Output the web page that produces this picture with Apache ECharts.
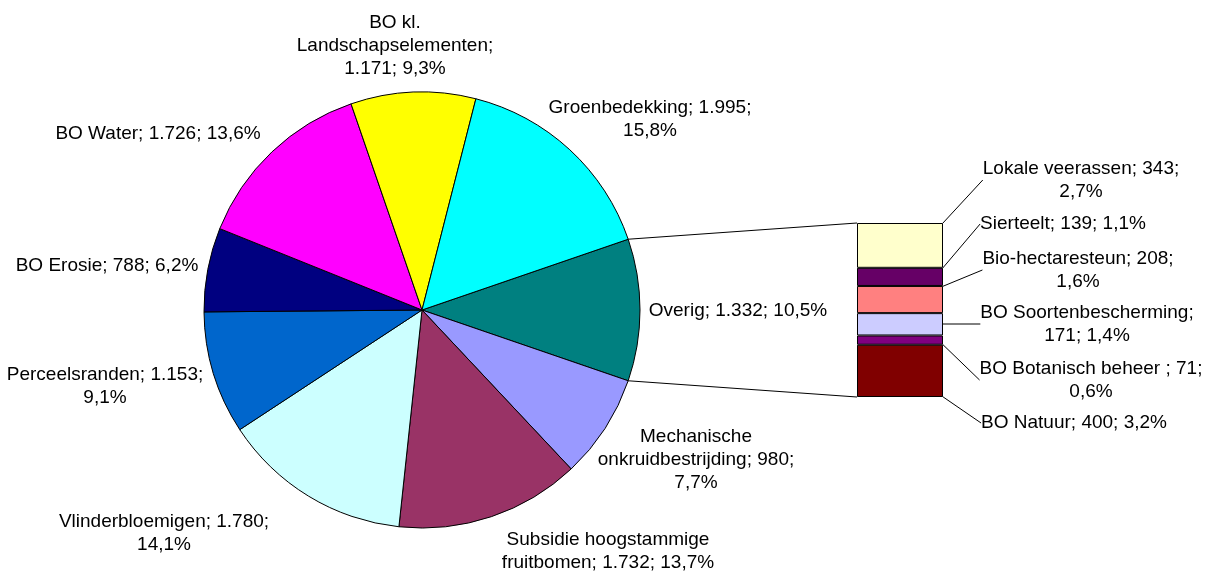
<!DOCTYPE html>
<html>
<head>
<meta charset="utf-8">
<script src="https://cdn.jsdelivr.net/npm/echarts@6/dist/echarts.min.js"></script>
<style>
  html, body { margin: 0; padding: 0; background: #fff; }
  #chart { width: 1209px; height: 573px; }
</style>
</head>
<body>
<div id="chart"></div>
<script>
// pie slices, clockwise starting with Overig
const pieNames = ['Overig', 'Mechanische\nonkruidbestrijding', 'Subsidie hoogstammige\nfruitbomen', 'Vlinderbloemigen',
  'Perceelsranden', 'BO Erosie', 'BO Water', 'BO kl.\nLandschapselementen', 'Groenbedekking']
const pieValues = [1332, 980, 1732, 1780, 1153, 788, 1726, 1171, 1995]
const pieColors = ['#008080', '#9999FF', '#993366', '#CCFFFF', '#0066CC', '#000080', '#FF00FF', '#FFFF00', '#00FFFF']
// 0 = one line, 1 = break before percent, 2 = break before value
const pieWrap = [0, 1, 0, 1, 1, 0, 0, 2, 1]

// breakdown of Overig, top to bottom
const barNames = ['Lokale veerassen', 'Sierteelt', 'Bio-hectaresteun', 'BO Soortenbescherming', 'BO Botanisch beheer ', 'BO Natuur']
const barValues = [343, 139, 208, 171, 71, 400]
const barColors = ['#FFFFCC', '#660066', '#FF8080', '#CCCCFF', '#800080', '#800000']
const barWrap = [1, 0, 1, 2, 1, 0]

const total = pieValues.reduce((a, b) => a + b, 0)
const overig = barValues.reduce((a, b) => a + b, 0)

function nl(v) {
  return String(v).replace(/\B(?=(\d{3})+(?!\d))/g, '.')
}
function pct(v) {
  return (v / total * 100).toFixed(1).replace('.', ',') + '%'
}
function labelText(name, v, wrap) {
  const sepV = wrap === 2 ? ';\n' : '; '
  const sepP = wrap === 1 ? ';\n' : '; '
  return name + sepV + nl(v) + sepP + pct(v)
}

// label anchor points (centre of text block)
const pieLabelPos = [[738, 311], [696, 460], [608, 551], [164, 533], [105, 386], [107, 266], [158, 134], [395, 46], [650, 119]]
const barLabelPos = [[1081, 180], [1063, 224], [1078, 270], [1087, 324], [1091, 380], [1074, 423]]

const pieCenter = [422, 310]
const pieRadius = 218
const startAngle = pieValues[0] / total * 360 / 2
const barGrid = { left: 857, top: 223, width: 86, height: 174 }

const textStyle = {
  color: '#000',
  fontFamily: 'Liberation Sans, Arial, sans-serif',
  fontSize: 19,
  lineHeight: 23,
  overflow: 'none'
}

const chart = echarts.init(document.getElementById('chart'))

const barSeries = []
for (let i = barNames.length - 1; i >= 0; i--) {
  const idx = i
  barSeries.push({
    name: barNames[idx],
    type: 'bar',
    stack: 'overig',
    barWidth: '100%',
    xAxisIndex: 0,
    yAxisIndex: 0,
    itemStyle: { color: barColors[idx], borderColor: '#000', borderWidth: 1 },
    label: {
      show: true,
      position: 'right',
      align: 'center',
      ...textStyle,
      formatter: () => labelText(barNames[idx], barValues[idx], barWrap[idx])
    },
    labelLine: { show: true, lineStyle: { color: '#000', width: 1 } },
    labelLayout: () => ({
      x: barLabelPos[idx][0],
      y: barLabelPos[idx][1],
      align: 'center',
      verticalAlign: 'middle'
    }),
    data: [barValues[idx]]
  })
}

const option = {
  animation: false,
  backgroundColor: '#fff',
  grid: { ...barGrid, containLabel: false },
  xAxis: { type: 'category', data: ['Overig'], show: false },
  yAxis: { type: 'value', min: 0, max: overig, show: false },
  series: [
    {
      name: 'Verdeling',
      type: 'pie',
      center: pieCenter,
      radius: pieRadius,
      startAngle: startAngle,
      clockwise: true,
      itemStyle: { borderColor: '#000', borderWidth: 1 },
      label: {
        show: true,
        position: 'outside',
        align: 'center',
        ...textStyle,
        formatter: p => labelText(pieNames[p.dataIndex], pieValues[p.dataIndex], pieWrap[p.dataIndex])
      },
      labelLine: { show: false },
      labelLayout: p => ({
        x: pieLabelPos[p.dataIndex][0],
        y: pieLabelPos[p.dataIndex][1],
        align: 'center',
        verticalAlign: 'middle'
      }),
      emphasis: { disabled: true },
      data: pieValues.map((v, i) => ({ name: pieNames[i], value: v, itemStyle: { color: pieColors[i] } }))
    },
    ...barSeries
  ]
}
chart.setOption(option)

// connector lines from Overig slice to the breakdown bar
const a = startAngle * Math.PI / 180
const upper = [pieCenter[0] + pieRadius * Math.cos(a), pieCenter[1] - pieRadius * Math.sin(a)]
const lower = [pieCenter[0] + pieRadius * Math.cos(a), pieCenter[1] + pieRadius * Math.sin(a)]
const barTop = chart.convertToPixel({ gridIndex: 0 }, [0, overig])
const barBottom = chart.convertToPixel({ gridIndex: 0 }, [0, 0])
chart.setOption({
  graphic: [
    { type: 'line', shape: { x1: upper[0], y1: upper[1], x2: barGrid.left, y2: barTop[1] }, style: { stroke: '#000', lineWidth: 1 } },
    { type: 'line', shape: { x1: lower[0], y1: lower[1], x2: barGrid.left, y2: barBottom[1] }, style: { stroke: '#000', lineWidth: 1 } }
  ]
})
</script>
</body>
</html>
